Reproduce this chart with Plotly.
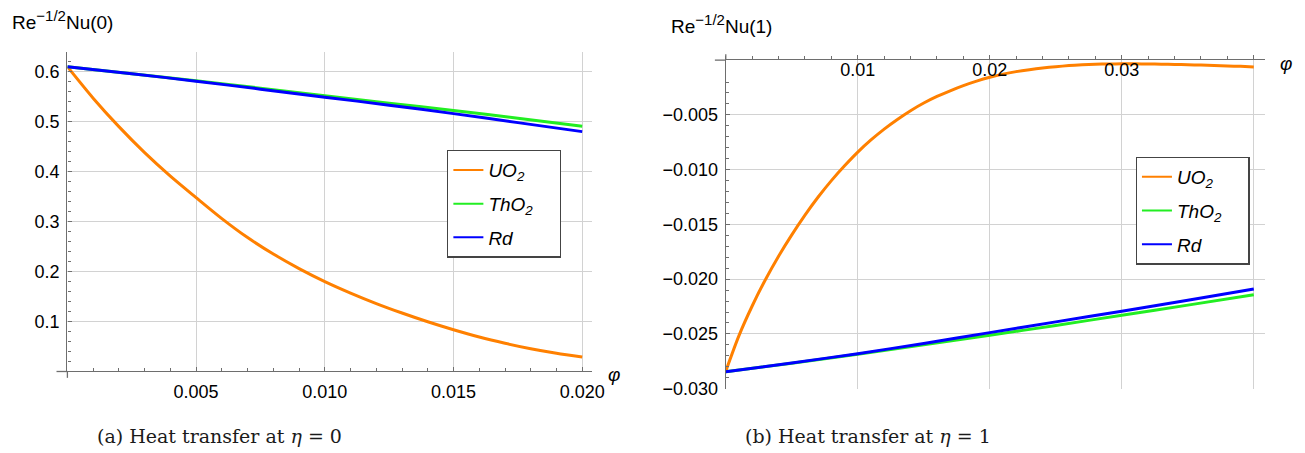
import plotly.graph_objects as go

W, H = 1305, 453

# ---------------- data ----------------
phi_a = [0.000, 0.001, 0.002, 0.003, 0.004, 0.005, 0.006, 0.007, 0.008, 0.009, 0.010,
         0.011, 0.012, 0.013, 0.014, 0.015, 0.016, 0.017, 0.018, 0.019, 0.020]
uo2_a = [0.610, 0.547, 0.490, 0.438, 0.391, 0.348, 0.306, 0.268, 0.235, 0.206, 0.180,
         0.157, 0.136, 0.117, 0.0995, 0.0835, 0.069, 0.0565, 0.0455, 0.0365, 0.029]
phi_a_lin = [0.0, 0.0025, 0.005, 0.0075, 0.010, 0.0125, 0.015, 0.0175, 0.020]
tho2_a = [0.610, 0.596, 0.582, 0.567, 0.552, 0.537, 0.5225, 0.507, 0.491]
rd_a = [0.610, 0.596, 0.581, 0.565, 0.549, 0.533, 0.516, 0.498, 0.480]

phi_b = [0.000, 0.001, 0.002, 0.003, 0.004, 0.005, 0.006, 0.007, 0.008, 0.009, 0.010,
         0.011, 0.012, 0.013, 0.014, 0.015, 0.016, 0.017, 0.018, 0.019, 0.020,
         0.021, 0.022, 0.023, 0.024, 0.025, 0.026, 0.027, 0.028, 0.029, 0.030,
         0.031, 0.032, 0.033, 0.034, 0.035, 0.036, 0.037, 0.038, 0.039, 0.040]
uo2_b = [-0.02840, -0.02515, -0.02245, -0.02005, -0.01790, -0.01595, -0.01415, -0.01250,
         -0.01100, -0.00965, -0.00840, -0.00729, -0.00630, -0.00542, -0.00462, -0.00392,
         -0.00332, -0.00280, -0.00233, -0.00192, -0.00157, -0.00128, -0.00105, -0.00087,
         -0.00072, -0.00060, -0.00050, -0.00043, -0.00038, -0.00035, -0.00034, -0.00034,
         -0.00035, -0.00037, -0.00039, -0.00042, -0.00045, -0.00049, -0.00053, -0.00057,
         -0.00062]
phi_b_lin = [0.0, 0.005, 0.010, 0.015, 0.020, 0.025, 0.030, 0.035, 0.040]
tho2_b = [-0.02845, -0.02768, -0.02686, -0.02598, -0.02512, -0.02422, -0.02330, -0.02237, -0.02143]
rd_b = [-0.02845, -0.02765, -0.02680, -0.02587, -0.02488, -0.02390, -0.02292, -0.02192, -0.02090]

NB = "\u00a0"
series_names = ["<i>UO</i><sub>2</sub>", "<i>ThO</i><sub>2</sub>" + NB * 4, "<i>Rd</i>"]
series_colors = ["#FF8000", "#22EE22", "#0000FF"]

xtick_a = [0.005, 0.010, 0.015, 0.020]
xtext_a = ["0.005", "0.010", "0.015", "0.020"]
ytick_a = [0.1, 0.2, 0.3, 0.4, 0.5, 0.6]
ytext_a = ["0.1", "0.2", "0.3", "0.4", "0.5", "0.6"]
xtick_b = [0.01, 0.02, 0.03, 0.04]
xtext_b = ["0.01", "0.02", "0.03", "0.04"]
ytick_b = [-0.005, -0.010, -0.015, -0.020, -0.025, -0.030]
ytext_b = ["\u22120.005", "\u22120.010", "\u22120.015", "\u22120.020", "\u22120.025", "\u22120.030"]

ylabel_a = "Re<sup><span style='font-size:15px'>\u22121/2</span></sup>Nu(0)"
ylabel_b = "Re<sup><span style='font-size:15px'>\u22121/2</span></sup>Nu(1)"
caption_a = "(a) Heat transfer at <i>\u03b7</i> = 0"
caption_b = "(b) Heat transfer at <i>\u03b7</i> = 1"
xlabel = "<i>\u03c6</i>"

# ---------------- layout geometry (pixels) ----------------
A_left, A_right, A_top, A_bottom = 60, 590, 45, 371.7
B_left, B_right, B_top, B_bottom = 725, 1270, 53.3, 389.3

def px(x):
    return x / W

def py(y):
    return 1 - y / H

SANS = "Liberation Sans"
AXC = "#6e6e6e"
GRIDC = "#d2d2d2"
TICKFONT = dict(family=SANS, size=18, color="black")

fig = go.Figure()

ys_a = [uo2_a, tho2_a, rd_a]
xs_a = [phi_a, phi_a_lin, phi_a_lin]
ys_b = [uo2_b, tho2_b, rd_b]
xs_b = [phi_b, phi_b_lin, phi_b_lin]
for i in range(3):
    fig.add_trace(go.Scatter(x=xs_a[i], y=ys_a[i], mode="lines", name=series_names[i],
                             line=dict(color=series_colors[i], width=3, shape="spline", smoothing=0.8),
                             xaxis="x", yaxis="y", showlegend=False))
for i in range(3):
    fig.add_trace(go.Scatter(x=xs_b[i], y=ys_b[i], mode="lines", name=series_names[i],
                             line=dict(color=series_colors[i], width=3, shape="spline", smoothing=0.8),
                             xaxis="x2", yaxis="y2", showlegend=False))
# legend entries (thin sample lines like the reference legend)
for lg, xa, ya in (("legend", "x", "y"), ("legend2", "x2", "y2")):
    for i in range(3):
        fig.add_trace(go.Scatter(x=[None], y=[None], mode="lines", name=series_names[i],
                                 line=dict(color=series_colors[i], width=2),
                                 xaxis=xa, yaxis=ya, legend=lg,
                                 legendgroup="%s%d" % (lg, i)))

common = dict(showline=True, linecolor=AXC, linewidth=1.3, showgrid=True,
              gridcolor=GRIDC, gridwidth=1.3, zeroline=False, tickmode="array",
              tickcolor=AXC, tickwidth=1, tickfont=TICKFONT, fixedrange=True)

LEGFONT = dict(family=SANS, size=19, color="black", style="italic")

fig.update_layout(
    width=W, height=H, autosize=False,
    margin=dict(l=0, r=0, t=0, b=0),
    paper_bgcolor="white", plot_bgcolor="white",
    font=dict(family=SANS, size=17, color="black"),
    xaxis=dict(domain=[px(A_left), px(A_right)], range=[0, (A_right - A_left) / 26000.0],
               anchor="y", side="bottom", tickvals=xtick_a, ticktext=xtext_a,
               ticks="inside", ticklen=4,
               minor=dict(tickmode="linear", tick0=0, dtick=0.001, ticks="inside",
                          ticklen=3, tickcolor=AXC, showgrid=False),
               ticklabelstandoff=4, **common),
    yaxis=dict(domain=[py(A_bottom), py(A_top)], range=[0, (A_bottom - A_top) / 511.0],
               anchor="x", side="left", tickvals=ytick_a, ticktext=ytext_a,
               ticks="inside", ticklen=4,
               minor=dict(tickmode="linear", tick0=0, dtick=0.02, ticks="inside",
                          ticklen=3, tickcolor=AXC, showgrid=False),
               ticklabelstandoff=3, **common),
    xaxis2=dict(domain=[px(B_left), px(B_right)], range=[0, (B_right - B_left) / 13333.0],
                anchor="y2", side="top", tickvals=xtick_b, ticktext=xtext_b,
                ticks="outside", ticklen=4, ticklabelposition="inside",
                minor=dict(tickmode="linear", tick0=0, dtick=0.002, ticks="outside",
                           ticklen=3, tickcolor=AXC, showgrid=False),
                ticklabelstandoff=4, **common),
    yaxis2=dict(domain=[py(B_bottom), py(B_top)], range=[-(B_bottom - B_top) / 11200.0, 0],
                anchor="x2", side="left", tickvals=ytick_b, ticktext=ytext_b,
                ticks="inside", ticklen=4,
                minor=dict(tickmode="linear", tick0=0, dtick=0.001, ticks="inside",
                           ticklen=3, tickcolor=AXC, showgrid=False),
                ticklabelstandoff=3, **common),
    legend=dict(x=px(443.5), y=py(145), xanchor="left", yanchor="top",
                bordercolor="#444444", borderwidth=1.3, bgcolor="white",
                font=LEGFONT, tracegroupgap=6, itemwidth=30),
    legend2=dict(x=px(1139), y=py(152), xanchor="left", yanchor="top",
                 bordercolor="#444444", borderwidth=1.3, bgcolor="white",
                 font=LEGFONT, tracegroupgap=6, itemwidth=30),
)

# axis-line stubs beyond the origin, as in the reference
stub = dict(type="line", xref="paper", yref="paper", line=dict(color=AXC, width=1.3), layer="above")
fig.add_shape(x0=px(A_left - 11), x1=px(A_left), y0=py(A_bottom), y1=py(A_bottom), **stub)
fig.add_shape(x0=px(A_left), x1=px(A_left), y0=py(A_bottom), y1=py(A_bottom + 6.5), **stub)
fig.add_shape(x0=px(B_left - 11), x1=px(B_left), y0=py(B_top), y1=py(B_top), **stub)
fig.add_shape(x0=px(B_left), x1=px(B_left), y0=py(B_top), y1=py(B_top - 6), **stub)

def ann(text, x, y, xanchor, yanchor, font):
    fig.add_annotation(text=text, x=px(x), y=py(y), xref="paper", yref="paper",
                       xanchor=xanchor, yanchor=yanchor, showarrow=False, font=font)

LABFONT = dict(family=SANS, size=19, color="black")
ann(ylabel_a, 2, 28, "left", "bottom", LABFONT)
ann(ylabel_b, 668, 32, "left", "bottom", LABFONT)
ann(xlabel, 612, 375, "center", "middle", dict(family=SANS, size=19, color="black"))
ann(xlabel, 1291, 57, "center", "middle", dict(family=SANS, size=19, color="black"))
CAPFONT = dict(family="DejaVu Serif", size=19, color="#1a1a1a")
ann(caption_a, 214, 438, "center", "middle", CAPFONT)
ann(caption_b, 869, 438, "center", "middle", CAPFONT)

fig.write_html("out.html")
